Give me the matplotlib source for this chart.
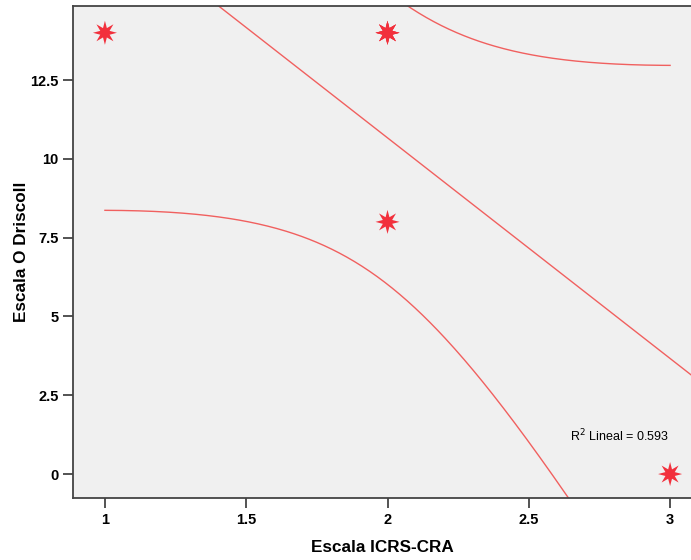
import matplotlib
matplotlib.use('Agg')
import matplotlib.pyplot as plt
import numpy as np

# cases (x, y) with repeats; the overlapping ones sit on the same star
x_icrs = np.array([1, 2, 2, 2, 2, 3])
y_odriscoll = np.array([14, 14, 14, 14, 8, 0])
x_ticks = [1, 1.5, 2, 2.5, 3]
y_ticks = [0, 2.5, 5, 7.5, 10, 12.5]
x_tick_labels = ['1', '1.5', '2', '2.5', '3']
y_tick_labels = ['0', '2.5', '5', '7.5', '10', '12.5']
t_975_df4 = 2.776

plt.rcParams['font.family'] = ['Liberation Sans', 'DejaVu Sans']

# linear fit and 95% CI for the mean
n = len(x_icrs)
slope, intercept = np.polyfit(x_icrs, y_odriscoll, 1)
fitted = intercept + slope * x_icrs
sse = np.sum((y_odriscoll - fitted) ** 2)
sst = np.sum((y_odriscoll - y_odriscoll.mean()) ** 2)
r2 = 1 - sse / sst
s = np.sqrt(sse / (n - 2))
sxx = np.sum((x_icrs - x_icrs.mean()) ** 2)

xs = np.linspace(1, 3, 300)
xl = np.linspace(0.8, 3.2, 300)
ys = intercept + slope * xs
half = t_975_df4 * s * np.sqrt(1 / n + (xs - x_icrs.mean()) ** 2 / sxx)

fig = plt.figure(figsize=(6.91, 5.6), dpi=100)
ax = fig.add_axes([73 / 691, 62 / 560, 618 / 691, 492 / 560])
ax.set_facecolor('#f0f0f0')

line_col = '#f0605f'
ax.plot(xl, intercept + slope * xl, color=line_col, lw=1)
ax.plot(xs, ys - half, color=line_col, lw=1)
ax.plot(xs, ys + half, color=line_col, lw=1)

star = [(np.cos(np.pi / 2 + k * np.pi / 8) * (1 if k % 2 == 0 else 0.42),
         np.sin(np.pi / 2 + k * np.pi / 8) * (1 if k % 2 == 0 else 0.42)) for k in range(16)]
ax.scatter(x_icrs, y_odriscoll, marker=star, s=300, color='#f2303c', edgecolors='none', zorder=3)

ax.text(2.82, 1.2, 'R$^2$ Lineal = ' + '%.3f' % r2, fontsize=9, ha='center', va='center')

ax.set_xlim(0.887, 3.074)
ax.set_ylim(-0.76, 14.85)
ax.set_xticks(x_ticks)
ax.set_xticklabels(x_tick_labels)
ax.set_yticks(y_ticks)
ax.set_yticklabels(y_tick_labels)
ax.tick_params(direction='out', length=7, width=1.3, color='#444444', labelsize=10.5)
for lab in ax.get_xticklabels() + ax.get_yticklabels():
    lab.set_fontweight('bold')
for sp in ['left', 'bottom', 'top']:
    ax.spines[sp].set_color('#444444')
    ax.spines[sp].set_linewidth(1.3)
ax.spines['right'].set_visible(False)

ax.set_xlabel('Escala ICRS-CRA', fontsize=12.3, fontweight='bold', labelpad=10)
ax.set_ylabel('Escala O Driscoll', fontsize=12.3, fontweight='bold', labelpad=1)

fig.savefig('out.png', dpi=100)
